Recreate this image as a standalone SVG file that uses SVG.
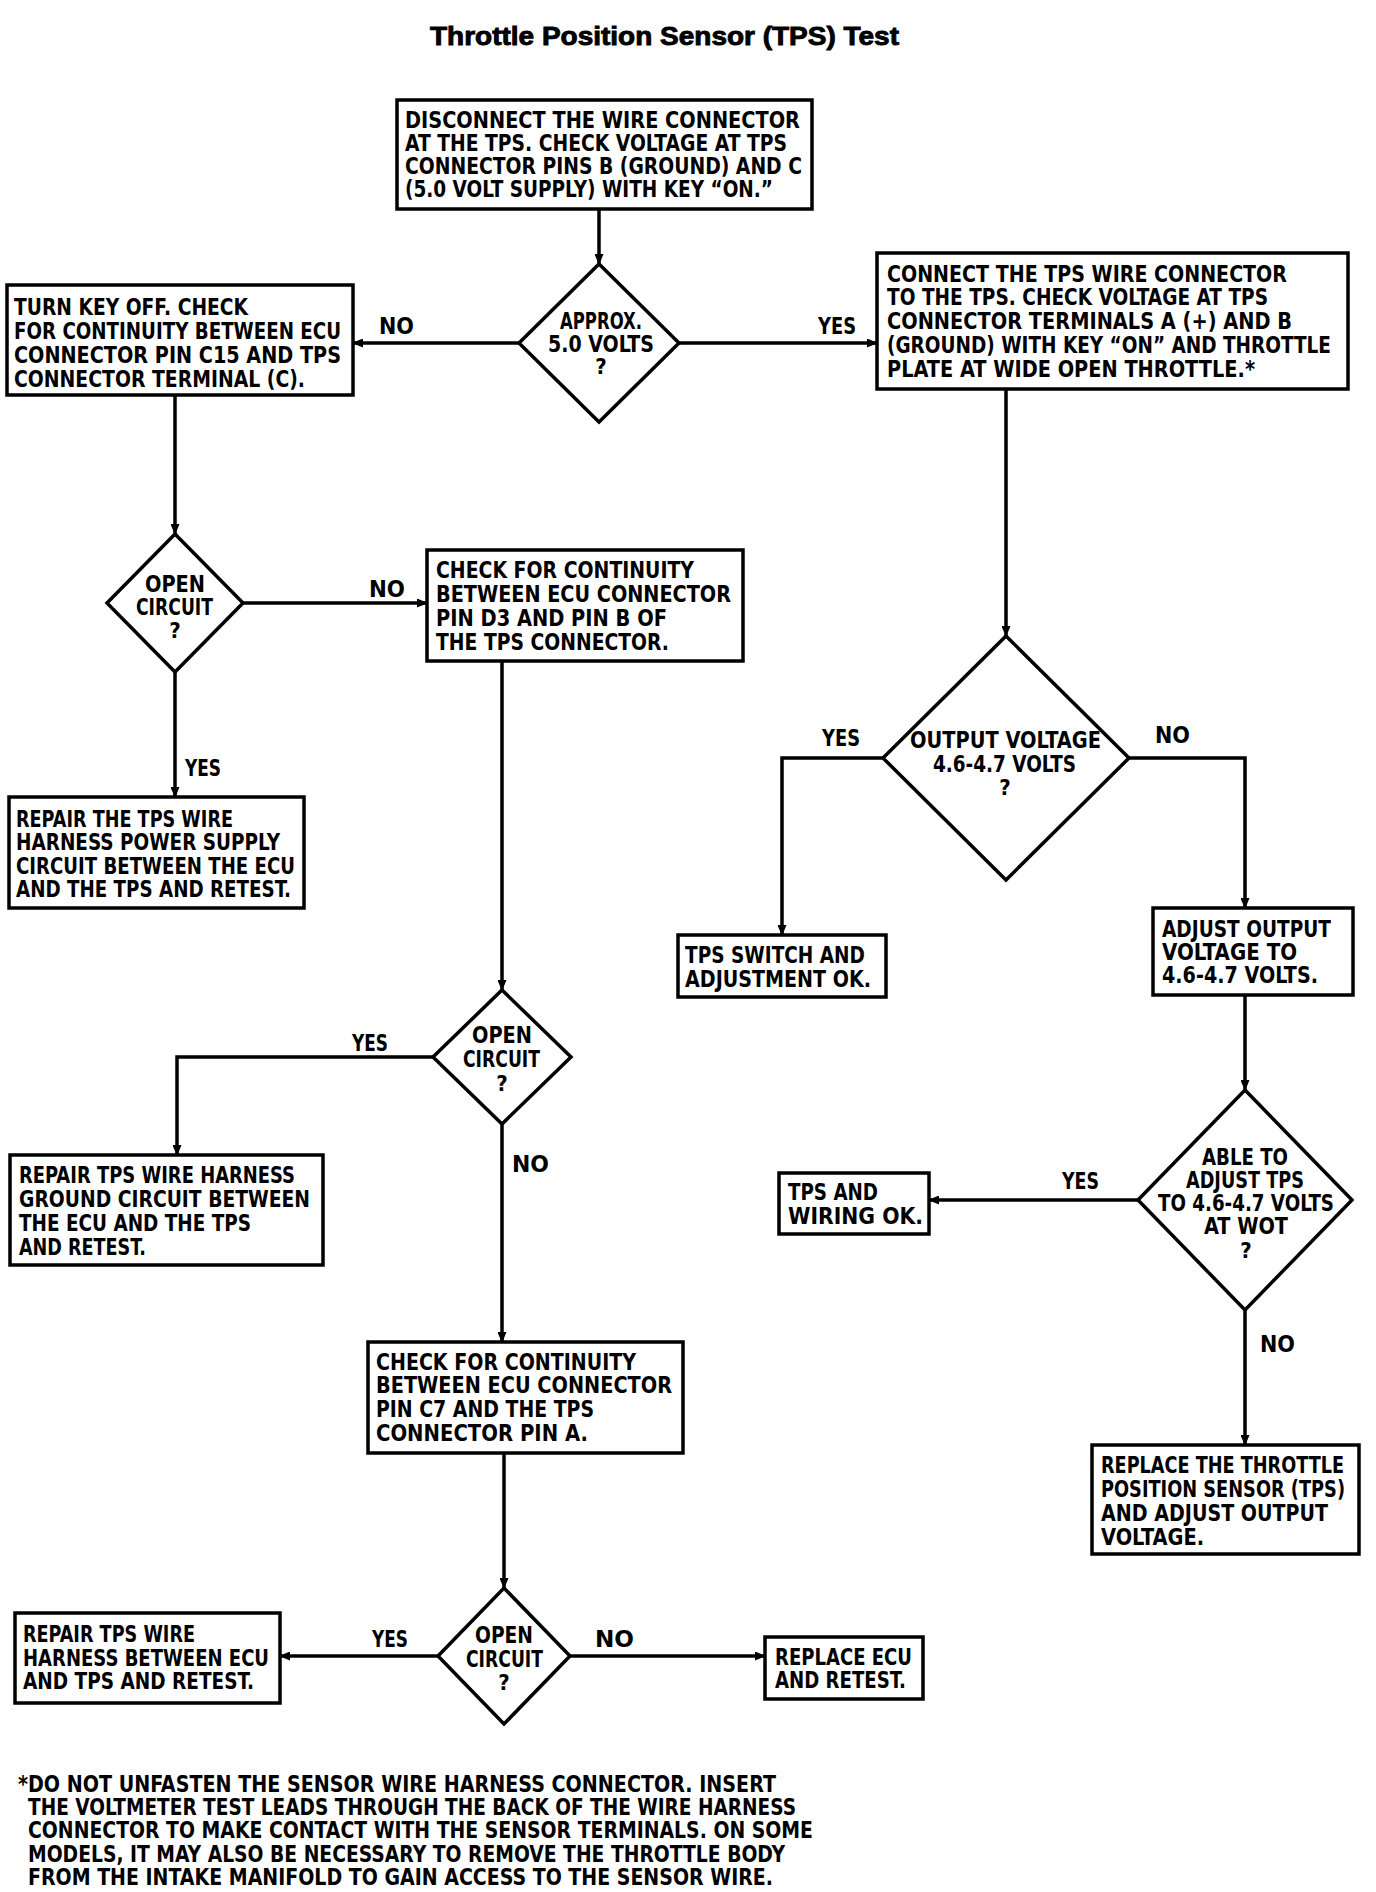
<svg xmlns="http://www.w3.org/2000/svg" width="1376" height="1892" viewBox="0 0 1376 1892">
<style>
.bg{fill:#fff}
.box{fill:#fff;stroke:#000;stroke-width:3.5}
.dia{fill:#fff;stroke:#000;stroke-width:3.5;stroke-linejoin:miter}
.t{font-family:"Liberation Sans Narrow","DejaVu Sans Condensed","Liberation Sans",sans-serif;font-weight:bold;font-size:23px;fill:#000}
.q{font-family:"Liberation Sans Narrow","DejaVu Sans Condensed","Liberation Sans",sans-serif;font-weight:bold;font-size:22px;fill:#000;text-anchor:middle}
.title{font-family:"Liberation Sans",Arial,sans-serif;font-weight:bold;font-size:26px;fill:#000;stroke:#000;stroke-width:0.9}
.conn{fill:none;stroke:#000;stroke-width:3.5;marker-end:url(#ah)}
</style>
<defs>
<marker id="ah" markerUnits="userSpaceOnUse" markerWidth="11" markerHeight="9" refX="10" refY="4.5" orient="auto">
<path d="M0,0 L11,4.5 L0,9 z" fill="#000"/>
</marker>
</defs>
<rect class="bg" x="0" y="0" width="1376" height="1892"/>
<text class="title" x="430" y="45" textLength="469" lengthAdjust="spacingAndGlyphs">Throttle Position Sensor (TPS) Test</text>

<g id="connectors">
<path class="conn" d="M599,209 L599,264"/>
<path class="conn" d="M519,343 L353,343"/>
<path class="conn" d="M679,343 L877,343"/>
<path class="conn" d="M175,395 L175,534"/>
<path class="conn" d="M243,603 L427,603"/>
<path class="conn" d="M175,672 L175,797"/>
<path class="conn" d="M502,661 L502,990"/>
<path class="conn" d="M433,1057 L177,1057 L177,1155"/>
<path class="conn" d="M502,1124 L502,1342"/>
<path class="conn" d="M504,1453 L504,1588"/>
<path class="conn" d="M438,1656 L280,1656"/>
<path class="conn" d="M570,1656 L765,1656"/>
<path class="conn" d="M1006,389 L1006,636"/>
<path class="conn" d="M883,758 L782,758 L782,935"/>
<path class="conn" d="M1129,758 L1245,758 L1245,908"/>
<path class="conn" d="M1245,995 L1245,1090"/>
<path class="conn" d="M1138,1200 L929,1200"/>
<path class="conn" d="M1245,1310 L1245,1445"/>
<text class="t" x="379" y="334" textLength="35" lengthAdjust="spacingAndGlyphs">NO</text>
<text class="t" x="818" y="334" textLength="38" lengthAdjust="spacingAndGlyphs">YES</text>
<text class="t" x="369" y="597" textLength="36" lengthAdjust="spacingAndGlyphs">NO</text>
<text class="t" x="185" y="776" textLength="36" lengthAdjust="spacingAndGlyphs">YES</text>
<text class="t" x="352" y="1051" textLength="36" lengthAdjust="spacingAndGlyphs">YES</text>
<text class="t" x="512" y="1172" textLength="37" lengthAdjust="spacingAndGlyphs">NO</text>
<text class="t" x="372" y="1647" textLength="36" lengthAdjust="spacingAndGlyphs">YES</text>
<text class="t" x="595" y="1647" textLength="39" lengthAdjust="spacingAndGlyphs">NO</text>
<text class="t" x="822" y="746" textLength="38" lengthAdjust="spacingAndGlyphs">YES</text>
<text class="t" x="1155" y="743" textLength="35" lengthAdjust="spacingAndGlyphs">NO</text>
<text class="t" x="1062" y="1189" textLength="37" lengthAdjust="spacingAndGlyphs">YES</text>
<text class="t" x="1260" y="1352" textLength="35" lengthAdjust="spacingAndGlyphs">NO</text>
</g>

<g id="n-disconnect">
<rect class="box" x="397" y="100" width="415" height="109"/>
<text class="t" x="405" y="128" textLength="395" lengthAdjust="spacingAndGlyphs">DISCONNECT THE WIRE CONNECTOR</text>
<text class="t" x="405" y="151" textLength="382" lengthAdjust="spacingAndGlyphs">AT THE TPS. CHECK VOLTAGE AT TPS</text>
<text class="t" x="405" y="174" textLength="397" lengthAdjust="spacingAndGlyphs">CONNECTOR PINS B (GROUND) AND C</text>
<text class="t" x="405" y="197" textLength="368" lengthAdjust="spacingAndGlyphs">(5.0 VOLT SUPPLY) WITH KEY “ON.”</text>
</g>

<g id="d-approx">
<polygon class="dia" points="599,264 679,343 599,422 519,343"/>
<text class="t" x="560" y="329" textLength="82" lengthAdjust="spacingAndGlyphs">APPROX.</text>
<text class="t" x="548" y="352" textLength="106" lengthAdjust="spacingAndGlyphs">5.0 VOLTS</text>
<text class="q" x="601" y="374">?</text>
</g>

<g id="n-turnkey">
<rect class="box" x="7" y="285" width="346" height="110"/>
<text class="t" x="14" y="315" textLength="234" lengthAdjust="spacingAndGlyphs">TURN KEY OFF. CHECK</text>
<text class="t" x="14" y="339" textLength="327" lengthAdjust="spacingAndGlyphs">FOR CONTINUITY BETWEEN ECU</text>
<text class="t" x="14" y="363" textLength="327" lengthAdjust="spacingAndGlyphs">CONNECTOR PIN C15 AND TPS</text>
<text class="t" x="14" y="387" textLength="291" lengthAdjust="spacingAndGlyphs">CONNECTOR TERMINAL (C).</text>
</g>

<g id="n-connect">
<rect class="box" x="877" y="253" width="471" height="136"/>
<text class="t" x="887" y="282" textLength="400" lengthAdjust="spacingAndGlyphs">CONNECT THE TPS WIRE CONNECTOR</text>
<text class="t" x="887" y="305" textLength="381" lengthAdjust="spacingAndGlyphs">TO THE TPS. CHECK VOLTAGE AT TPS</text>
<text class="t" x="887" y="329" textLength="405" lengthAdjust="spacingAndGlyphs">CONNECTOR TERMINALS A (+) AND B</text>
<text class="t" x="887" y="353" textLength="444" lengthAdjust="spacingAndGlyphs">(GROUND) WITH KEY “ON” AND THROTTLE</text>
<text class="t" x="887" y="377" textLength="368" lengthAdjust="spacingAndGlyphs">PLATE AT WIDE OPEN THROTTLE.*</text>
</g>

<g id="d-open1">
<polygon class="dia" points="175,534 243,603 175,672 107,603"/>
<text class="t" x="145" y="592" textLength="60" lengthAdjust="spacingAndGlyphs">OPEN</text>
<text class="t" x="136" y="615" textLength="77" lengthAdjust="spacingAndGlyphs">CIRCUIT</text>
<text class="q" x="175" y="638">?</text>
</g>

<g id="n-check-d3">
<rect class="box" x="427" y="550" width="316" height="111"/>
<text class="t" x="436" y="578" textLength="258" lengthAdjust="spacingAndGlyphs">CHECK FOR CONTINUITY</text>
<text class="t" x="436" y="602" textLength="295" lengthAdjust="spacingAndGlyphs">BETWEEN ECU CONNECTOR</text>
<text class="t" x="436" y="626" textLength="231" lengthAdjust="spacingAndGlyphs">PIN D3 AND PIN B OF</text>
<text class="t" x="436" y="650" textLength="233" lengthAdjust="spacingAndGlyphs">THE TPS CONNECTOR.</text>
</g>

<g id="n-repair-power">
<rect class="box" x="9" y="797" width="295" height="111"/>
<text class="t" x="16" y="827" textLength="217" lengthAdjust="spacingAndGlyphs">REPAIR THE TPS WIRE</text>
<text class="t" x="16" y="850" textLength="264" lengthAdjust="spacingAndGlyphs">HARNESS POWER SUPPLY</text>
<text class="t" x="16" y="874" textLength="279" lengthAdjust="spacingAndGlyphs">CIRCUIT BETWEEN THE ECU</text>
<text class="t" x="16" y="897" textLength="275" lengthAdjust="spacingAndGlyphs">AND THE TPS AND RETEST.</text>
</g>

<g id="d-open2">
<polygon class="dia" points="502,990 571,1057 502,1124 433,1057"/>
<text class="t" x="472" y="1043" textLength="60" lengthAdjust="spacingAndGlyphs">OPEN</text>
<text class="t" x="463" y="1067" textLength="77" lengthAdjust="spacingAndGlyphs">CIRCUIT</text>
<text class="q" x="502" y="1091">?</text>
</g>

<g id="n-repair-ground">
<rect class="box" x="10" y="1155" width="313" height="110"/>
<text class="t" x="19" y="1183" textLength="276" lengthAdjust="spacingAndGlyphs">REPAIR TPS WIRE HARNESS</text>
<text class="t" x="19" y="1207" textLength="291" lengthAdjust="spacingAndGlyphs">GROUND CIRCUIT BETWEEN</text>
<text class="t" x="19" y="1231" textLength="232" lengthAdjust="spacingAndGlyphs">THE ECU AND THE TPS</text>
<text class="t" x="19" y="1255" textLength="127" lengthAdjust="spacingAndGlyphs">AND RETEST.</text>
</g>

<g id="n-check-c7">
<rect class="box" x="368" y="1342" width="315" height="111"/>
<text class="t" x="376" y="1370" textLength="260" lengthAdjust="spacingAndGlyphs">CHECK FOR CONTINUITY</text>
<text class="t" x="376" y="1393" textLength="296" lengthAdjust="spacingAndGlyphs">BETWEEN ECU CONNECTOR</text>
<text class="t" x="376" y="1417" textLength="218" lengthAdjust="spacingAndGlyphs">PIN C7 AND THE TPS</text>
<text class="t" x="376" y="1441" textLength="212" lengthAdjust="spacingAndGlyphs">CONNECTOR PIN A.</text>
</g>

<g id="d-open3">
<polygon class="dia" points="504,1588 570,1656 504,1724 438,1656"/>
<text class="t" x="475" y="1643" textLength="58" lengthAdjust="spacingAndGlyphs">OPEN</text>
<text class="t" x="466" y="1667" textLength="77" lengthAdjust="spacingAndGlyphs">CIRCUIT</text>
<text class="q" x="504" y="1690">?</text>
</g>

<g id="n-repair-harness">
<rect class="box" x="15" y="1613" width="265" height="90"/>
<text class="t" x="23" y="1642" textLength="172" lengthAdjust="spacingAndGlyphs">REPAIR TPS WIRE</text>
<text class="t" x="23" y="1666" textLength="246" lengthAdjust="spacingAndGlyphs">HARNESS BETWEEN ECU</text>
<text class="t" x="23" y="1689" textLength="231" lengthAdjust="spacingAndGlyphs">AND TPS AND RETEST.</text>
</g>

<g id="n-replace-ecu">
<rect class="box" x="765" y="1637" width="158" height="62"/>
<text class="t" x="775" y="1665" textLength="137" lengthAdjust="spacingAndGlyphs">REPLACE ECU</text>
<text class="t" x="775" y="1688" textLength="131" lengthAdjust="spacingAndGlyphs">AND RETEST.</text>
</g>

<g id="d-output">
<polygon class="dia" points="1006,636 1129,758 1006,880 883,758"/>
<text class="t" x="910" y="748" textLength="191" lengthAdjust="spacingAndGlyphs">OUTPUT VOLTAGE</text>
<text class="t" x="933" y="772" textLength="143" lengthAdjust="spacingAndGlyphs">4.6-4.7 VOLTS</text>
<text class="q" x="1005" y="795">?</text>
</g>

<g id="n-switch-ok">
<rect class="box" x="678" y="935" width="208" height="62"/>
<text class="t" x="685" y="963" textLength="180" lengthAdjust="spacingAndGlyphs">TPS SWITCH AND</text>
<text class="t" x="685" y="987" textLength="186" lengthAdjust="spacingAndGlyphs">ADJUSTMENT OK.</text>
</g>

<g id="n-adjust">
<rect class="box" x="1153" y="908" width="200" height="87"/>
<text class="t" x="1162" y="937" textLength="169" lengthAdjust="spacingAndGlyphs">ADJUST OUTPUT</text>
<text class="t" x="1162" y="960" textLength="135" lengthAdjust="spacingAndGlyphs">VOLTAGE TO</text>
<text class="t" x="1162" y="983" textLength="156" lengthAdjust="spacingAndGlyphs">4.6-4.7 VOLTS.</text>
</g>

<g id="d-able">
<polygon class="dia" points="1245,1090 1352,1200 1245,1310 1138,1200"/>
<text class="t" x="1202" y="1165" textLength="86" lengthAdjust="spacingAndGlyphs">ABLE TO</text>
<text class="t" x="1186" y="1188" textLength="118" lengthAdjust="spacingAndGlyphs">ADJUST TPS</text>
<text class="t" x="1158" y="1211" textLength="176" lengthAdjust="spacingAndGlyphs">TO 4.6-4.7 VOLTS</text>
<text class="t" x="1204" y="1234" textLength="84" lengthAdjust="spacingAndGlyphs">AT WOT</text>
<text class="q" x="1246" y="1258">?</text>
</g>

<g id="n-wiring-ok">
<rect class="box" x="779" y="1173" width="150" height="61"/>
<text class="t" x="788" y="1200" textLength="90" lengthAdjust="spacingAndGlyphs">TPS AND</text>
<text class="t" x="788" y="1224" textLength="135" lengthAdjust="spacingAndGlyphs">WIRING OK.</text>
</g>

<g id="n-replace-tps">
<rect class="box" x="1092" y="1445" width="267" height="109"/>
<text class="t" x="1101" y="1473" textLength="243" lengthAdjust="spacingAndGlyphs">REPLACE THE THROTTLE</text>
<text class="t" x="1101" y="1497" textLength="244" lengthAdjust="spacingAndGlyphs">POSITION SENSOR (TPS)</text>
<text class="t" x="1101" y="1521" textLength="227" lengthAdjust="spacingAndGlyphs">AND ADJUST OUTPUT</text>
<text class="t" x="1101" y="1545" textLength="103" lengthAdjust="spacingAndGlyphs">VOLTAGE.</text>
</g>

<g id="footnote">
<text class="t" x="18" y="1792" textLength="758" lengthAdjust="spacingAndGlyphs">*DO NOT UNFASTEN THE SENSOR WIRE HARNESS CONNECTOR. INSERT</text>
<text class="t" x="28" y="1815" textLength="768" lengthAdjust="spacingAndGlyphs">THE VOLTMETER TEST LEADS THROUGH THE BACK OF THE WIRE HARNESS</text>
<text class="t" x="28" y="1838" textLength="785" lengthAdjust="spacingAndGlyphs">CONNECTOR TO MAKE CONTACT WITH THE SENSOR TERMINALS. ON SOME</text>
<text class="t" x="28" y="1862" textLength="757" lengthAdjust="spacingAndGlyphs">MODELS, IT MAY ALSO BE NECESSARY TO REMOVE THE THROTTLE BODY</text>
<text class="t" x="28" y="1885" textLength="745" lengthAdjust="spacingAndGlyphs">FROM THE INTAKE MANIFOLD TO GAIN ACCESS TO THE SENSOR WIRE.</text>
</g>
</svg>
